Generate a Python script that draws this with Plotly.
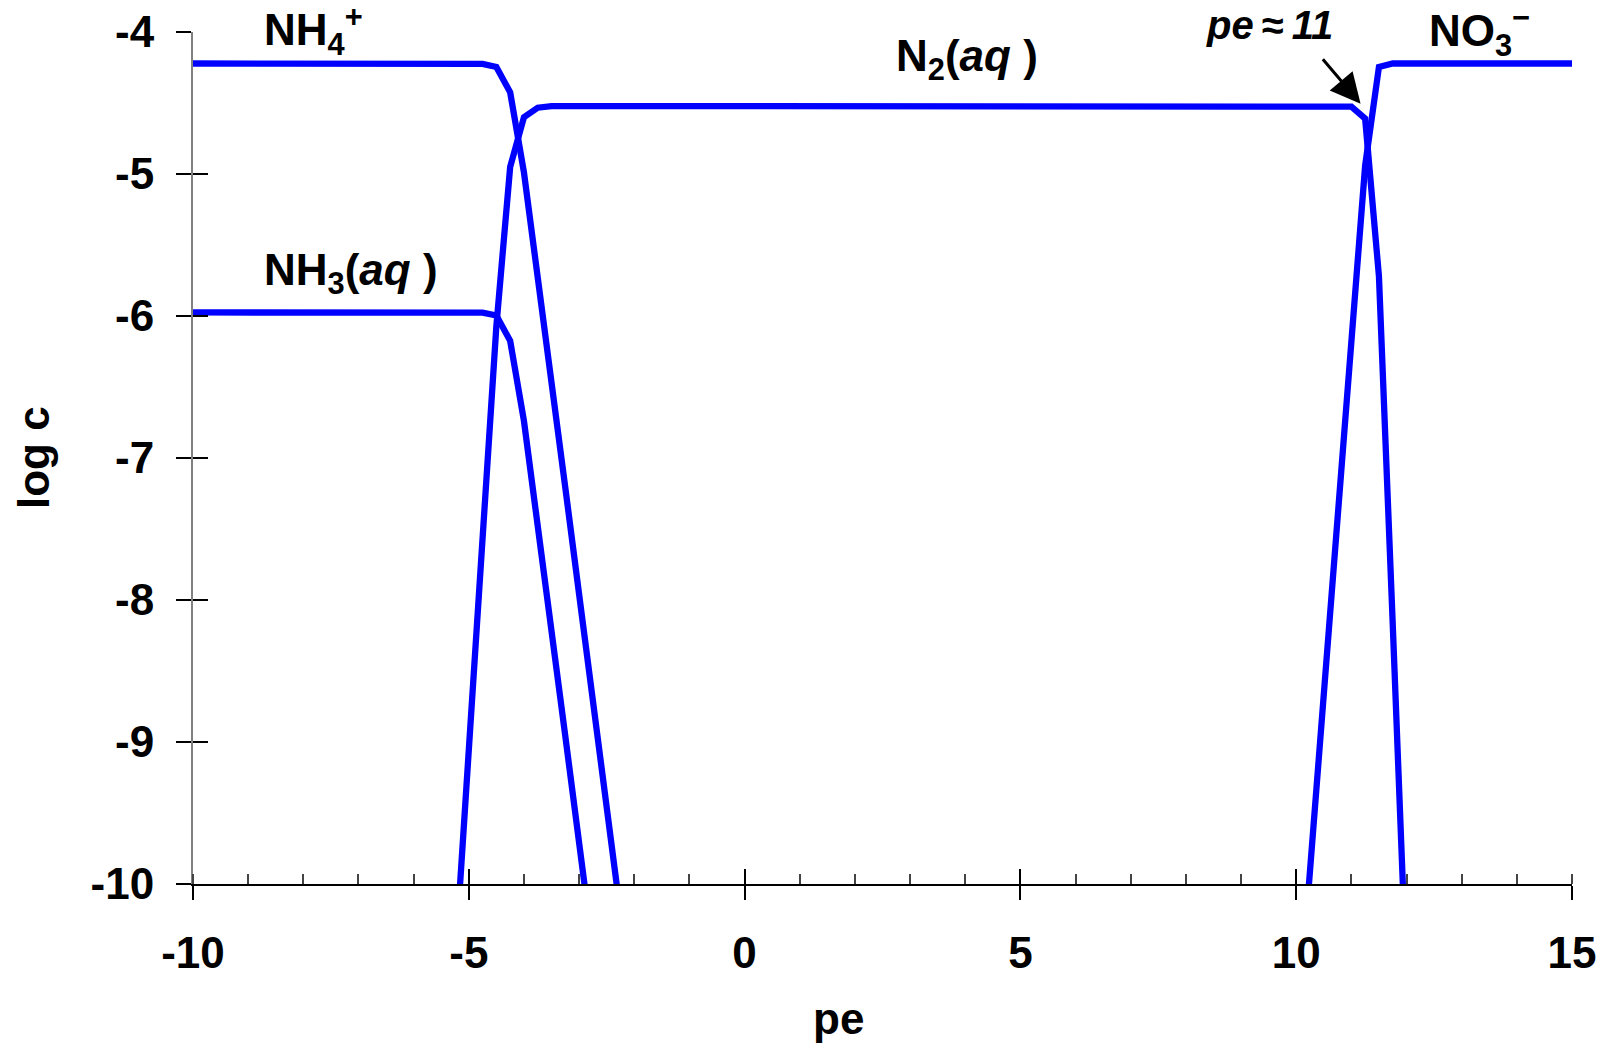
import plotly.graph_objects as go

# ---- data ----
pe_nh4 = [-10, -4.75, -4.5, -4.25, -4.0, -3.75, -3.5, -3.25, -3.0, -2.75, -2.5, -2.25]
log_nh4 = [-4.222, -4.224, -4.246, -4.425, -4.99, -5.71, -6.46, -7.21, -7.96, -8.71, -9.46, -10.21]

pe_nh3 = [-10, -4.75, -4.5, -4.25, -4.0, -3.75, -3.5, -3.25, -3.0, -2.75]
log_nh3 = [-5.975, -5.976, -5.996, -6.175, -6.74, -7.46, -8.21, -8.96, -9.71, -10.46]

pe_n2 = [-5.25, -5.0, -4.75, -4.5, -4.25, -4.0, -3.75, -3.5, 0, 5, 10, 10.75, 11.0, 11.25, 11.5, 11.75, 12.0]
log_n2 = [-10.55, -9.05, -7.55, -6.07, -4.95, -4.60, -4.533, -4.522, -4.522, -4.522, -4.522, -4.522,
          -4.526, -4.61, -5.72, -8.17, -10.67]

pe_no3 = [10.0, 10.25, 10.5, 10.75, 11.0, 11.25, 11.5, 11.75, 15]
log_no3 = [-11.15, -9.90, -8.65, -7.40, -6.15, -4.94, -4.246, -4.222, -4.222]

x_ticks = [-10, -5, 0, 5, 10, 15]
y_ticks = [-10, -9, -8, -7, -6, -5, -4]

BLUE = "#0000FF"
FONT = "Liberation Sans, Arial, sans-serif"

# The page body adds an 8px margin; size the figure so it fits the window.
W, H = 1598, 1039
ML, MR, MT, MB = 185, 34, 24, 163
PW = W - ML - MR
PH = H - MT - MB


def px_x(px):
    """screen pixel -> paper x"""
    return (px - 8 - ML) / PW


def px_y(py):
    """screen pixel -> paper y"""
    return (MT + PH - (py - 8)) / PH


fig = go.Figure()
for xs, ys in [(pe_nh4, log_nh4), (pe_nh3, log_nh3), (pe_n2, log_n2), (pe_no3, log_no3)]:
    fig.add_trace(go.Scatter(x=xs, y=ys, mode="lines",
                             line=dict(color=BLUE, width=6.3), showlegend=False,
                             hoverinfo="skip"))

tickfont = dict(family=FONT, size=44, color="black", weight="bold")

fig.update_layout(
    width=W, height=H,
    margin=dict(l=ML, r=MR, t=MT, b=MB, autoexpand=False),
    plot_bgcolor="white", paper_bgcolor="white",
    showlegend=False,
    xaxis=dict(range=[-10, 15], tickvals=x_ticks, ticktext=[str(v) for v in x_ticks],
               ticks="outside", ticklen=14, tickwidth=1.5, tickcolor="black",
               showline=True, linecolor="black", linewidth=1.5,
               showgrid=False, zeroline=False, tickfont=tickfont,
               ticklabelstandoff=15, ticklabeloverflow="allow", automargin=False,
               minor=dict(ticks="inside", ticklen=10, tickwidth=1.5, tickcolor="#444",
                          dtick=1, showgrid=False)),
    xaxis2=dict(range=[-10, 15], overlaying="x", anchor="y", side="bottom",
                tickvals=x_ticks, ticks="inside", ticklen=15, tickwidth=1.5,
                tickcolor="black", showticklabels=False, showline=False,
                showgrid=False, zeroline=False, automargin=False),
    yaxis=dict(range=[-10, -4], tickvals=y_ticks, ticktext=[str(v) for v in y_ticks],
               ticks="outside", ticklen=15, tickwidth=1.5, tickcolor="black",
               showline=True, linecolor="#808080", linewidth=2,
               showgrid=False, zeroline=False, tickfont=tickfont,
               ticklabelstandoff=13, ticklabeloverflow="allow", automargin=False),
    yaxis2=dict(range=[-10, -4], overlaying="y", anchor="x", side="left",
                tickvals=y_ticks, ticks="inside", ticklen=15, tickwidth=1.5,
                tickcolor="black", showticklabels=False, showline=False,
                showgrid=False, zeroline=False, automargin=False),
)
fig.add_trace(go.Scatter(x=[None], y=[None], xaxis="x2", yaxis="y2", showlegend=False))

lab = dict(family=FONT, size=44, color="black", weight="bold")
annots = [
    dict(text="NH<sub>4</sub><sup>+</sup>", x=px_x(261.5), y=px_y(30), xanchor="left"),
    dict(text="NH<sub>3</sub>(<i>aq</i> )", x=px_x(261.5), y=px_y(273), xanchor="left"),
    dict(text="N<sub>2</sub>(<i>aq</i> )", x=px_x(894), y=px_y(59.3), xanchor="left"),
    dict(text="NO<sub>3</sub><sup>\u2212</sup>", x=px_x(1426.5), y=px_y(31), xanchor="left"),
]
for a in annots:
    fig.add_annotation(xref="paper", yref="paper", showarrow=False, font=lab,
                       yanchor="middle", **a)

fig.add_annotation(xref="paper", yref="paper", x=px_x(1269), y=px_y(24.7),
                   text="<i>pe</i>\u2009\u2248\u2009<i>11</i>",
                   showarrow=False, xanchor="center", yanchor="middle",
                   font=dict(family=FONT, size=40, color="black", weight="bold"))
fig.add_annotation(xref="x", yref="y", x=11.167, y=-4.505, text="", showarrow=True,
                   ax=-39, ay=-46, arrowhead=2, arrowsize=2, arrowwidth=3,
                   arrowcolor="black", standoff=0)

fig.add_annotation(xref="paper", yref="paper", x=px_x(33), y=px_y(458), text="log c",
                   textangle=-90, showarrow=False, xanchor="center", yanchor="middle",
                   font=lab)
fig.add_annotation(xref="paper", yref="paper", x=px_x(838), y=px_y(1018), text="pe",
                   showarrow=False, xanchor="center", yanchor="middle", font=lab)

fig.write_html("out.html")
